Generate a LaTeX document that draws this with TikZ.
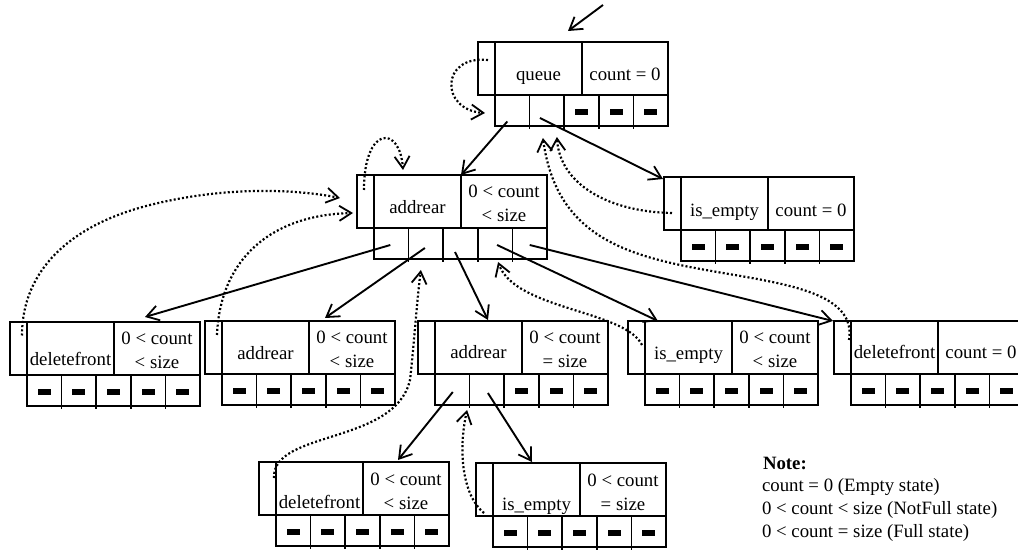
\documentclass[tikz,border=0pt]{standalone}
\usepackage{fontspec}
\setmainfont{Liberation Serif}
\usetikzlibrary{arrows.meta,calc}
\newcommand\diagfont{\fontsize{18.8}{22.5}\selectfont}
\tikzset{
  cell/.style={draw, line width=1.5pt, inner sep=0pt, outer sep=0pt, anchor=north west},
  tick/.style={line width=1.5pt},
  lbl/.style={inner sep=0pt, outer sep=0pt, font=\diagfont},
  ptr/.style={line width=1.9pt, -{Straight Barb[length=12pt,width=15pt,line width=1.8pt]}},
  backptr/.style={line width=2.2pt, dash pattern=on 2pt off 2.2pt,
    -{Straight Barb[length=12pt,width=15pt,line width=1.8pt]}},
}
% #1 id, #2 x, #3 y (top left), #4 operation, #5/#6 condition lines,
% #7 cells holding a null mark, #8 baseline offset of the operation text
\newcommand\stbox[8]{%
  \node[cell, minimum width=17pt, minimum height=53pt] (#1-s) at (#2,#3) {};
  \node[cell, minimum width=87pt, minimum height=53pt] (#1-n) at (#1-s.north east) {};
  \node[cell, minimum width=86pt, minimum height=53pt] (#1-k) at (#1-n.north east) {};
  \node[cell, minimum width=34.6pt, minimum height=31pt] (#1-c1) at (#1-n.south west) {};
  \node[cell, minimum width=34.6pt, minimum height=31pt] (#1-c2) at (#1-c1.north east) {};
  \node[cell, minimum width=34.6pt, minimum height=31pt] (#1-c3) at (#1-c2.north east) {};
  \node[cell, minimum width=34.6pt, minimum height=31pt] (#1-c4) at (#1-c3.north east) {};
  \node[cell, minimum width=34.6pt, minimum height=31pt] (#1-c5) at (#1-c4.north east) {};
  \foreach \i in {1,...,4} {\draw[tick] (#1-c\i.south east) -- ++(0,3);}
  \node[lbl, anchor=base] (#1-nt) at ($(#1-n.north)+(0,#8)$) {#4};
  \if\relax\detokenize{#6}\relax
    \node[lbl, anchor=base] (#1-kt) at ($(#1-k.north)+(0,#8)$) {#5};
  \else
    \node[lbl, anchor=base] (#1-kt) at ($(#1-k.north)+(0,23)$) {#5};
    \node[lbl, anchor=base] (#1-kb) at ($(#1-k.north)+(0,47)$) {#6};
  \fi
  \if\relax\detokenize{#7}\relax\else
    \foreach \i in {#7} {\fill ($(#1-c\i.center)+(-6.5,-1.5)$) rectangle ++(13,6);}
  \fi
}
\begin{document}
\begin{tikzpicture}[x=1pt,y=-1pt]
\useasboundingbox (0,0) rectangle (1018,553);
\clip (0,0) rectangle (1018,553);

% state boxes
\stbox{q}{478}{42}{queue}{count = 0}{}{3,4,5}{39}
\stbox{a1}{357}{175}{addrear}{0 < count}{< size}{}{39}
\stbox{e1}{664}{177}{is\_empty}{count = 0}{}{1,...,5}{40}
\stbox{d2}{10}{322}{deletefront}{0 < count}{< size}{1,...,5}{44}
\stbox{a2}{205}{321}{addrear}{0 < count}{< size}{1,...,5}{39}
\stbox{f2}{418}{321}{addrear}{0 < count}{= size}{3,4,5}{38}
\stbox{e2}{628}{321}{is\_empty}{0 < count}{< size}{1,...,5}{39}
\stbox{dr}{834}{321}{deletefront}{count = 0}{}{1,...,5}{38}
\stbox{d3}{259}{462}{deletefront}{0 < count}{< size}{1,...,5}{46}
\stbox{e3}{476}{463}{is\_empty}{0 < count}{= size}{1,...,5}{47}

% forward pointers
\coordinate (qin) at ($(q-n.north east)+(21,-37)$);
\draw[ptr] (qin) -- ($(q-n.north east)+(-14,-11)$);
\draw[ptr] ($(q-c1.center)+(-5,11)$) -- (a1-n.north east);
\draw[ptr] ($(q-c2.center)+(-7,7.5)$) -- ($(e1-s.north west)+(-1,2)$);
\draw[ptr] ($(a1-c1.center)+(-1,1.5)$) -- ($(d2-k.north)+(-12,-5)$);
\draw[ptr] ($(a1-c2.center)+(-1,4.5)$) -- ($(a2-k.north)+(-27,-3)$);
\draw[ptr] ($(a1-c3.center)+(-5.5,8.5)$) -- ($(f2-n.north)+(9.5,-1)$);
\draw[ptr] ($(a1-c4.center)+(2,1.5)$) -- ($(e2-n.north west)+(13,0)$);
\draw[ptr] ($(a1-c5.center)+(0,1.5)$) -- ($(dr-s.north west)+(-1,0)$);
\draw[ptr] ($(f2-c1.center)+(0.5,2.5)$) -- ($(d3-k.north)+(-8,-2)$);
\draw[ptr] ($(f2-c2.center)+(1,3.5)$) -- ($(e3-n.north)+(-4.5,-1)$);

% back pointers
\draw[backptr] ($(q-s.center)+(1.5,-8.5)$) .. controls +(-48,-5) and +(-45,-3) .. ($(q-c1.west)+(-10,2.5)$);
\draw[backptr] ($(a1-s.center)+(-1.5,-11.5)$) .. controls +(0,-65) and +(-3,-45) .. ($(a1-n.north)+(-14.5,-5)$);
\draw[backptr] ($(e1-s.center)+(-0.5,9.5)$) .. controls +(-62,-1) and +(3,48) .. ($(q-c2.south)+(10,11)$);
\draw[backptr] ($(dr-s.center)+(6.5,-7.5)$) .. controls +(9,-55) and +(80,17) .. (680,265)
  .. controls +(-70,-15) and +(12,87) .. ($(q-c2.south)+(-4,12)$);
\draw[backptr] ($(d2-s.center)+(3.5,-13)$) .. controls +(0,-65) and +(-80,20) .. (150,205)
  .. controls +(80,-20) and +(-40,-8) .. ($(a1-s.west)+(-17,-3.5)$);
\draw[backptr] ($(a2-s.center)+(3.5,-12.5)$) .. controls +(3,-75) and +(-83,2) .. ($(a1-s.west)+(-4,11.5)$);
\draw[backptr] ($(d3-s.center)+(6.5,-10.5)$) .. controls +(-2,-48) and +(-15,65) .. (410,380)
  .. controls +(4,-35) and +(-4,30) .. ($(a1-c2.south)+(-5,11)$);
\draw[backptr] ($(e3-s.center)+(-0.5,23.5)$) .. controls +(-22,-18) and +(-9,40) .. ($(f2-c2.south west)+(-2.5,5)$);
\draw[backptr] ($(e2-s.center)+(5.5,-2.5)$) .. controls +(-17,-35) and +(17,48) .. ($(a1-c4.south)+(3,3)$);

% legend
\node[lbl, anchor=base west, font=\diagfont\bfseries] (note-h) at (763,469) {Note:};
\node[lbl, anchor=base west] (note-1) at (762,491) {count = 0 (Empty state)};
\node[lbl, anchor=base west] (note-2) at (762,514) {0 < count < size (NotFull state)};
\node[lbl, anchor=base west] (note-3) at (762,537) {0 < count = size (Full state)};
\end{tikzpicture}
\end{document}
